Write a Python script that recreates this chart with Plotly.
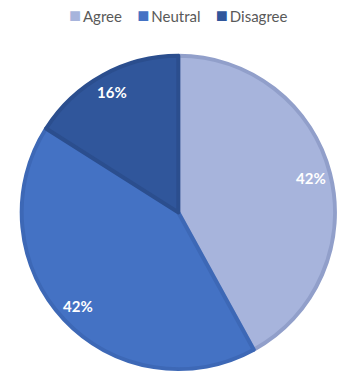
import math
import plotly.graph_objects as go

# Survey responses (percent of respondents)
categories = ["Agree", "Neutral", "Disagree"]
shares = [42, 42, 16]

fill_colors = ["#a7b4dc", "#4472c4", "#30569b"]
edge_colors = ["#919fca", "#3d68b6", "#2b4e8e"]

W, H = 339, 373
dom_x = [0.064, 0.988]
dom_y = [0.008, 0.853]

fig = go.Figure(
    go.Pie(
        labels=categories,
        values=shares,
        sort=False,
        direction="clockwise",
        rotation=0,
        marker=dict(colors=fill_colors, line=dict(color=edge_colors, width=4)),
        textinfo="none",
        hoverinfo="label+percent",
        domain=dict(x=dom_x, y=dom_y),
        showlegend=False,
    )
)

# Percentage labels placed near the rim, at each slice's mid-angle
cx = (dom_x[0] + dom_x[1]) / 2 * W
cy = (dom_y[0] + dom_y[1]) / 2 * H
radius = min((dom_x[1] - dom_x[0]) * W, (dom_y[1] - dom_y[0]) * H) / 2
label_r = 0.875 * radius
total = sum(shares)
cum = 0
for share in shares:
    mid = (cum + share / 2) / total * 2 * math.pi
    cum += share
    px = cx + label_r * math.sin(mid)
    py = cy + label_r * math.cos(mid)
    fig.add_annotation(
        x=px / W, y=py / H, xref="paper", yref="paper",
        text=f"{round(share / total * 100)}%",
        showarrow=False, xanchor="center", yanchor="middle",
        font=dict(family="Lato", size=15, color="white", weight="bold"),
    )

# Legend row across the top
legend_parts = [
    f"<span style='color:{c};font-size:20px'>■</span>&#8201;{name}"
    for name, c in zip(categories, fill_colors)
]
fig.add_annotation(
    x=0.525, y=1 - 14 / H, xref="paper", yref="paper",
    text="&nbsp;&nbsp;&nbsp;&nbsp;".join(legend_parts),
    showarrow=False, xanchor="center", yanchor="middle",
    font=dict(family="Lato", size=15, color="#595959"),
)

fig.update_layout(
    width=W,
    height=H,
    margin=dict(l=0, r=0, t=0, b=0),
    paper_bgcolor="white",
    plot_bgcolor="white",
    showlegend=False,
)

fig.write_html("out.html")
